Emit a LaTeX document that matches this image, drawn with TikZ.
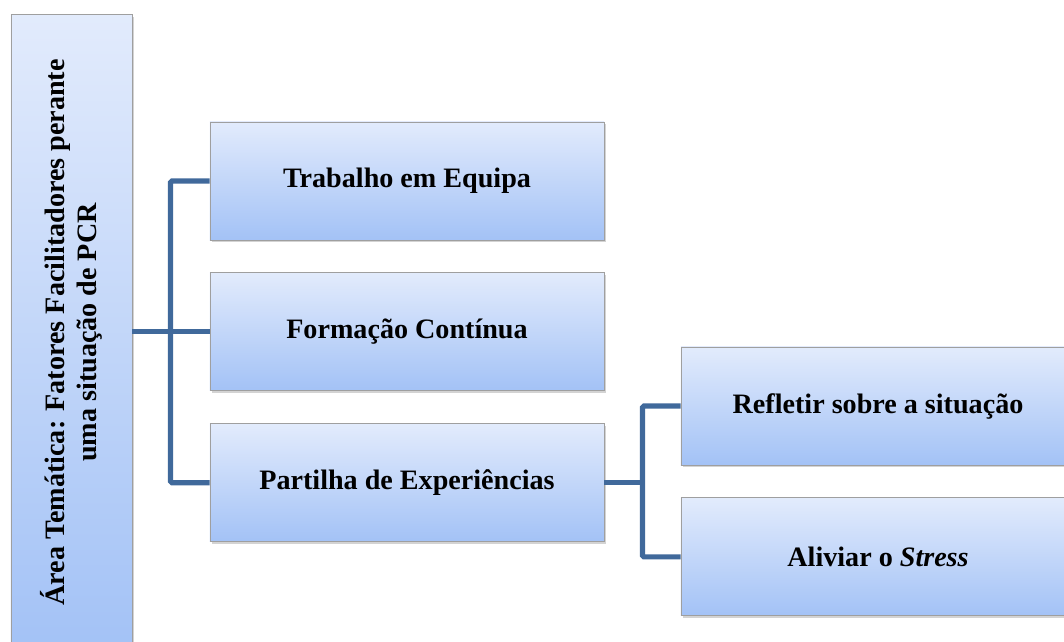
\documentclass[tikz,border=0pt]{standalone}
\usepackage{fontspec}
\setmainfont{Liberation Serif}
\usetikzlibrary{positioning, shadows}
\definecolor{linkblue}{RGB}{64,105,155}
\definecolor{boxtop}{RGB}{226,235,252}
\definecolor{boxbot}{RGB}{163,194,246}
\tikzset{
  topic/.style={draw=gray!75, line width=0.6pt, top color=boxtop, bottom color=boxbot,
    minimum width=9.85cm, minimum height=2.95cm, align=center,
    font=\fontsize{20}{23}\selectfont\bfseries,
    drop shadow={shadow xshift=1.5pt, shadow yshift=-1.5pt, opacity=0.35}},
  link/.style={draw=linkblue, line width=3.6pt, rounded corners=1pt}
}

\begin{document}
\begin{tikzpicture}[x=0.025cm, y=-0.025cm]
    \useasboundingbox (0,0) rectangle (1064,642);
    \clip (0,0) rectangle (1064,642);

    % theme area
    \node [topic, rotate=90, minimum width=15.875cm, minimum height=3.025cm] (area) at (71.5,332.5)
        {Área Temática: Fatores Facilitadores perante\\uma situação de PCR};

    % first level
    \node [topic] (equipa) at (407,181) {Trabalho em Equipa};
    \node [topic, below=0.8cm of equipa] (formacao) {Formação Contínua};
    \node [topic, below=0.8cm of formacao] (partilha) {Partilha de Experiências};

    % second level
    \node [topic] (refletir) at (878,406) {Refletir sobre a situação};
    \node [topic, below=0.8cm of refletir] (aliviar) {Aliviar o \textit{Stress}};

    \draw[link] (area.south |- formacao) -- (formacao.west);
    \draw[link] (equipa.west) -- ++(-0.975cm,0) |- (partilha.west);
    \draw[link] (partilha.east) -- ++(0.95cm,0);
    \draw[link] (refletir.west) -- ++(-0.95cm,0) |- (aliviar.west);
\end{tikzpicture}
\end{document}
